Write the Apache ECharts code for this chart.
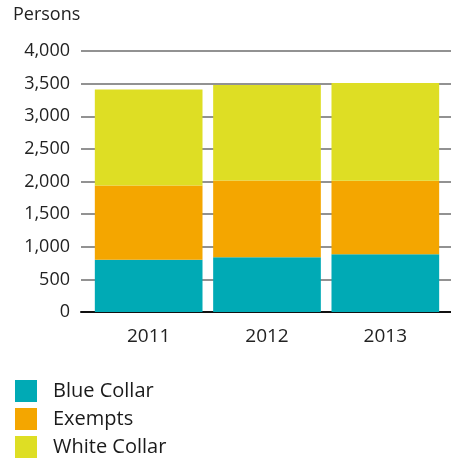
<!DOCTYPE html>
<html>
<head>
<meta charset="utf-8">
<script src="https://cdn.jsdelivr.net/npm/echarts@6/dist/echarts.min.js"></script>
<style>
  html, body { margin: 0; padding: 0; background: #fff; }
  #chart { width: 451px; height: 465px; }
</style>
</head>
<body>
<div id="chart"></div>
<script>
// Workforce headcount by employee group, stacked per year
const years = ['2011', '2012', '2013'];
const blueCollar = [800, 840, 885];
const exempts = [1140, 1175, 1125];
const whiteCollar = [1470, 1465, 1500];
const yTicks = { min: 0, max: 4000, interval: 500 };

const FONT = '"Open Sans", Lato, sans-serif';
const colors = ['#00AAB5', '#F4A600', '#DEDE24'];

const chart = echarts.init(document.getElementById('chart'));

const fmt = v => v.toLocaleString('en-US');

chart.setOption({
  animation: false,
  color: colors,
  title: {
    text: 'Persons',
    left: 13,
    top: 6,
    padding: 0,
    textStyle: { fontFamily: FONT, fontSize: 18, fontWeight: 'normal', color: '#222' }
  },
  legend: {
    orient: 'vertical',
    left: 15,
    top: 380,
    height: 85,
    padding: 0,
    itemWidth: 22,
    itemHeight: 22,
    itemGap: 6,
    icon: 'rect',
    textStyle: { fontFamily: FONT, fontSize: 20, color: '#1a1a1a', padding: [0, 0, 0, 11] },
    data: ['Blue Collar', 'Exempts', 'White Collar']
  },
  grid: [
    // value grid: gridlines and y-axis labels across full width
    { left: 81, right: 0, top: 51, height: 261 },
    // bar grid: inset so the bars sit inside the ruled area
    { left: 89.5, right: 6.5, top: 51, height: 261 }
  ],
  xAxis: [
    {
      gridIndex: 0, type: 'value', min: 0, max: 1,
      axisLine: { show: true, onZero: false, lineStyle: { color: '#111', width: 2 } },
      axisTick: { show: false }, axisLabel: { show: false }, splitLine: { show: false }
    },
    {
      gridIndex: 1, type: 'category', data: years,
      axisLine: { show: false }, axisTick: { show: false },
      axisLabel: { margin: 15, fontFamily: FONT, fontSize: 19, color: '#222' }
    }
  ],
  yAxis: [
    {
      gridIndex: 0, type: 'value', ...yTicks,
      axisLine: { show: false }, axisTick: { show: false },
      axisLabel: { margin: 11, fontFamily: FONT, fontSize: 18, color: '#222', formatter: fmt },
      splitLine: { lineStyle: { color: '#6e6e6e', width: 1.5 } }
    },
    {
      gridIndex: 1, type: 'value', ...yTicks,
      show: false, splitLine: { show: false }
    }
  ],
  series: [
    { name: 'Blue Collar', type: 'bar', stack: 'total', xAxisIndex: 1, yAxisIndex: 1,
      barCategoryGap: '9%', data: blueCollar, z: 3 },
    { name: 'Exempts', type: 'bar', stack: 'total', xAxisIndex: 1, yAxisIndex: 1,
      barCategoryGap: '9%', data: exempts, z: 3 },
    { name: 'White Collar', type: 'bar', stack: 'total', xAxisIndex: 1, yAxisIndex: 1,
      barCategoryGap: '9%', data: whiteCollar, z: 3 }
  ]
});
</script>
</body>
</html>
